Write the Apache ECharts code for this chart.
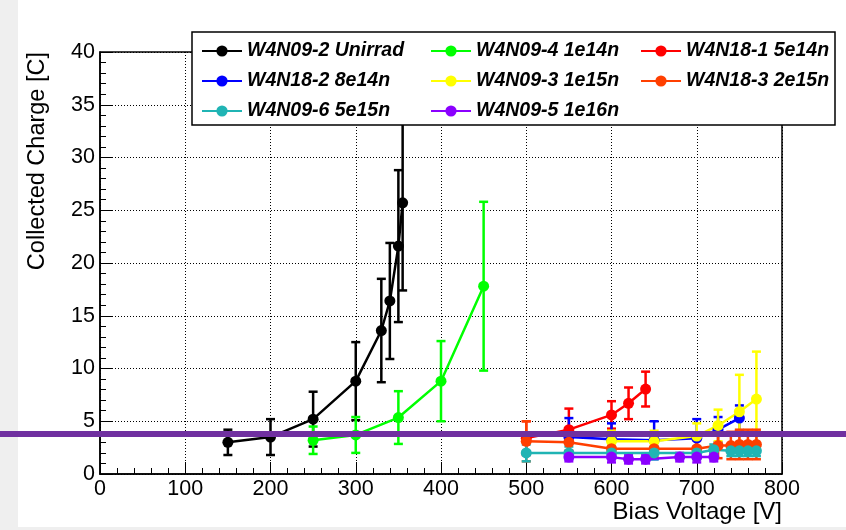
<!DOCTYPE html>
<html>
<head>
<meta charset="utf-8">
<script src="https://cdn.jsdelivr.net/npm/echarts@6/dist/echarts.min.js"></script>
<style>
html,body{margin:0;padding:0;background:#efefef;}
#chart{width:846px;height:530px;}
</style>
</head>
<body>
<div id="chart"></div>
<script>
// ---- data ----
const xTicks = [0,100,200,300,400,500,600,700,800];
const yTicks = [0,5,10,15,20,25,30,35,40];

const unirradX = [150,200,250,300,330,340,350,355];
const unirradY = [3.0,3.5,5.2,8.8,13.6,16.4,21.6,25.7];
const unirradE = [1.2,1.7,2.6,3.7,4.9,5.5,7.2,8.3];

const n1e14X = [250,300,350,400,450];
const n1e14Y = [3.2,3.7,5.35,8.8,17.8];
const n1e14E = [1.3,1.7,2.5,3.8,8.0];

const n5e14X = [500,550,600,620,640];
const n5e14Y = [3.4,4.2,5.6,6.7,8.05];
const n5e14E = [1.6,2.0,1.3,1.5,1.65];

const n8e14X = [550,600,650,700,725,750];
const n8e14Y = [3.5,3.3,3.2,3.4,4.2,5.3];
const n8e14E = [1.8,1.5,1.8,1.8,1.2,1.2];

const n1e15X = [600,650,700,725,750,770];
const n1e15Y = [3.1,3.1,3.6,4.6,5.9,7.1];
const n1e15E = [1.0,1.0,1.2,1.5,3.5,4.5];

const n2e15X = [500,550,600,650,700,725,740,750,760,770];
const n2e15Y = [3.1,3.0,2.4,2.4,2.4,2.7,2.7,2.8,2.8,2.8];
const n2e15E = [1.9,1.0,0.8,0.8,0.8,1.2,1.3,1.4,1.4,1.4];

const n5e15X = [500,550,600,650,700,720,740,750,760,770];
const n5e15Y = [2.0,2.0,2.0,2.0,2.0,2.3,2.2,2.2,2.2,2.2];
const n5e15E = [0.8,0.6,0.6,0.6,0.6,0.5,0.5,0.5,0.5,0.5];

const n1e16X = [550,600,620,640,680,700,720];
const n1e16Y = [1.6,1.6,1.4,1.4,1.6,1.6,1.6];
const n1e16E = [0.4,0.5,0.4,0.4,0.4,0.5,0.4];

const refLineValue = 3.8;

const seriesDefs = [
  {name:'W4N09-2 Unirrad', color:'#000000', x:unirradX, y:unirradY, e:unirradE},
  {name:'W4N09-4 1e14n',  color:'#00ff00', x:n1e14X, y:n1e14Y, e:n1e14E},
  {name:'W4N18-1 5e14n',  color:'#ff0000', x:n5e14X, y:n5e14Y, e:n5e14E},
  {name:'W4N18-2 8e14n',  color:'#0000ff', x:n8e14X, y:n8e14Y, e:n8e14E},
  {name:'W4N09-3 1e15n',  color:'#ffff00', x:n1e15X, y:n1e15Y, e:n1e15E},
  {name:'W4N18-3 2e15n',  color:'#ff3f00', x:n2e15X, y:n2e15Y, e:n2e15E},
  {name:'W4N09-6 5e15n',  color:'#20b4b4', x:n5e15X, y:n5e15Y, e:n5e15E},
  {name:'W4N09-5 1e16n',  color:'#8b00ff', x:n1e16X, y:n1e16Y, e:n1e16E}
];

const FONT = 'Liberation Sans, Arial, sans-serif';

function errRender(color){
  return function(params, api){
    const x = api.value(0), lo = api.value(1), hi = api.value(2);
    const p1 = api.coord([x, lo]), p2 = api.coord([x, hi]);
    const w = 4.5;
    const st = {stroke: color, lineWidth: 2.5};
    return {type:'group', children:[
      {type:'line', shape:{x1:p1[0], y1:p1[1], x2:p2[0], y2:p2[1]}, style:st},
      {type:'line', shape:{x1:p1[0]-w, y1:p1[1], x2:p1[0]+w, y2:p1[1]}, style:st},
      {type:'line', shape:{x1:p2[0]-w, y1:p2[1], x2:p2[0]+w, y2:p2[1]}, style:st}
    ]};
  };
}

const series = [];
seriesDefs.forEach(function(d){
  series.push({
    type:'custom', name: d.name + ' err',
    renderItem: errRender(d.color),
    data: d.x.map(function(v,i){ return [v, d.y[i]-d.e[i], d.y[i]+d.e[i]]; }),
    encode:{x:0, y:[1,2]}, clip:true, z:2, silent:true
  });
  series.push({
    type:'line', name:d.name,
    data: d.x.map(function(v,i){ return [v, d.y[i]]; }),
    symbol:'circle', symbolSize:11, showAllSymbol:true,
    lineStyle:{color:d.color, width:2.5}, itemStyle:{color:d.color},
    z:3, animation:false
  });
});

const legendCommon = {
  orient:'vertical', itemWidth:40, itemHeight:14, itemGap:10, z:20,
  textStyle:{fontFamily:FONT, fontSize:19.5, fontWeight:'bold', fontStyle:'italic', color:'#000', lineHeight:20},
  selectedMode:false
};

const chart = echarts.init(document.getElementById('chart'), null, {renderer:'canvas'});
function graphics(yRef){
  const g = [
    {type:'rect', id:'panel', z:-10, silent:true, shape:{x:18, y:0, width:828, height:527}, style:{fill:'#ffffff'}},
    {type:'rect', id:'legbox', z:15, silent:true, shape:{x:192, y:32, width:643, height:93}, style:{fill:'#ffffff', stroke:'#000', lineWidth:1.5}}
  ];
  if (yRef !== undefined) g.push({type:'line', id:'ref', z:100, silent:true, shape:{x1:0, y1:yRef, x2:846, y2:yRef}, style:{stroke:'#7030a0', lineWidth:6}});
  return g;
}
const option = {
  animation:false,
  backgroundColor:'transparent',
  grid:{left:100, top:52, width:682, height:422, show:true, borderColor:'#000', borderWidth:1.5, backgroundColor:'#fff'},
  xAxis:{
    type:'value', min:xTicks[0], max:xTicks[xTicks.length-1], interval:xTicks[1]-xTicks[0],
    name:'Bias Voltage [V]', nameLocation:'end', nameGap:0,
    nameTextStyle:{fontFamily:FONT, fontSize:24, color:'#000', align:'right', verticalAlign:'top', padding:[26,0,0,0]},
    axisLine:{show:true, onZero:false, lineStyle:{color:'#000', width:1.5}},
    axisTick:{show:true, inside:true, length:12, lineStyle:{color:'#000', width:1}},
    minorTick:{show:true, splitNumber:5, length:6, lineStyle:{color:'#000', width:1}},
    axisLabel:{color:'#000', fontFamily:FONT, fontSize:21.5, margin:4},
    splitLine:{show:true, lineStyle:{color:'#000', width:1, type:[1,2]}}
  },
  yAxis:{
    type:'value', min:yTicks[0], max:yTicks[yTicks.length-1], interval:yTicks[1]-yTicks[0],
    name:'Collected Charge [C]', nameLocation:'end', nameGap:0, nameRotate:90,
    nameTextStyle:{fontFamily:FONT, fontSize:23.5, color:'#000', align:'right', verticalAlign:'bottom', padding:[0,0,50,0]},
    axisLine:{show:true, onZero:false, lineStyle:{color:'#000', width:1.5}},
    axisTick:{show:true, inside:true, length:12, lineStyle:{color:'#000', width:1}},
    minorTick:{show:true, splitNumber:5, length:6, lineStyle:{color:'#000', width:1}},
    axisLabel:{color:'#000', fontFamily:FONT, fontSize:21.5, margin:5},
    splitLine:{show:true, lineStyle:{color:'#000', width:1, type:[1,2]}}
  },
  legend:[
    Object.assign({}, legendCommon, {left:196, top:36, data:[seriesDefs[0].name, seriesDefs[3].name, seriesDefs[6].name]}),
    Object.assign({}, legendCommon, {left:425, top:36, data:[seriesDefs[1].name, seriesDefs[4].name, seriesDefs[7].name]}),
    Object.assign({}, legendCommon, {left:635, top:36, data:[seriesDefs[2].name, seriesDefs[5].name]})
  ],
  graphic: graphics(),
  series: series
};
chart.setOption(option);
const yRef = chart.convertToPixel({yAxisIndex:0}, refLineValue);
chart.setOption({graphic: graphics(yRef)});
</script>
</body>
</html>
